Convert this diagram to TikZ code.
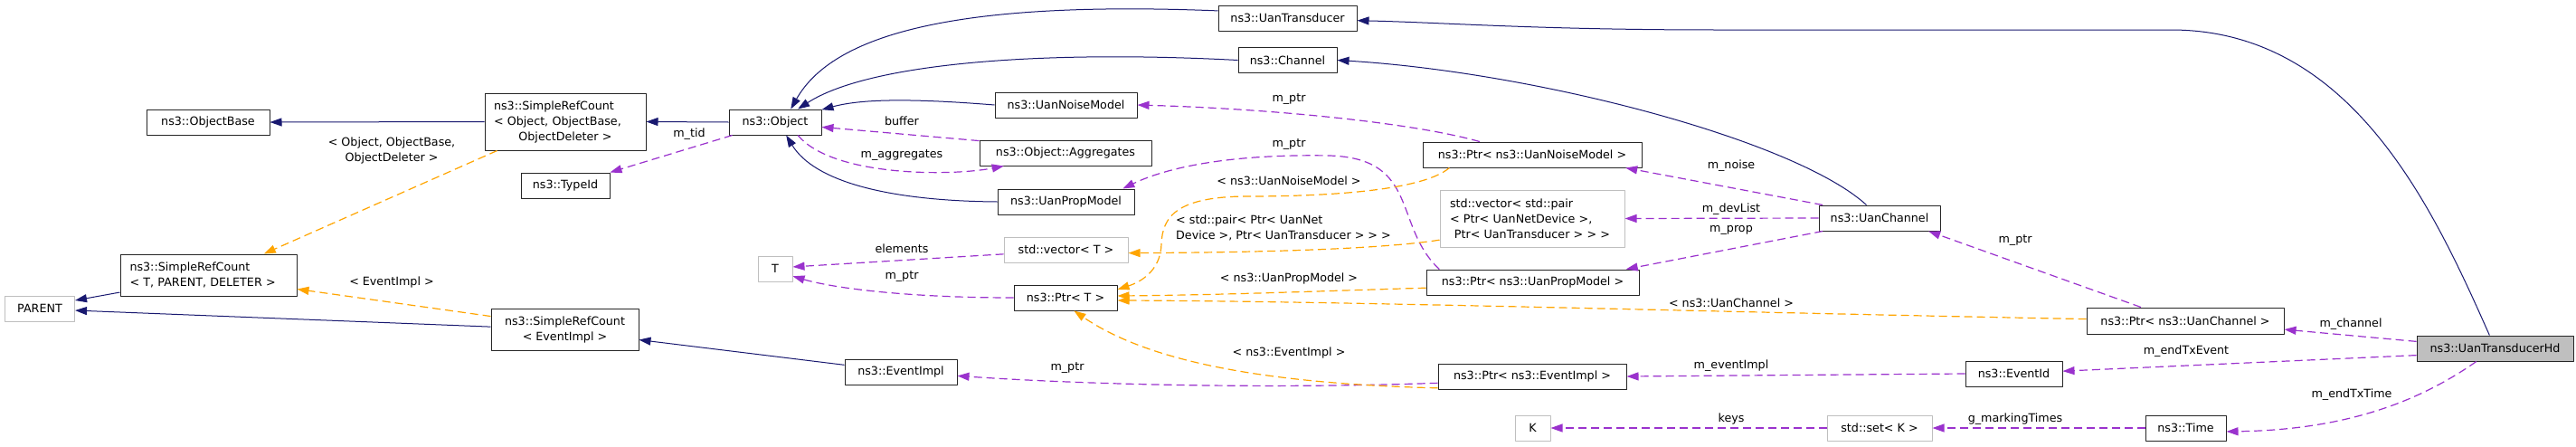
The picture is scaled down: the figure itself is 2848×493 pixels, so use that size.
\documentclass[tikz,border=0pt]{standalone}
\usepackage{fontspec}
\setmainfont{DejaVu Sans}
\usetikzlibrary{arrows.meta}
\definecolor{inhblue}{HTML}{191970}
\definecolor{usepurple}{HTML}{9A32CD}
\definecolor{tmplorange}{HTML}{FFA500}
\definecolor{undocgray}{HTML}{BFBFBF}
\tikzset{
  cls/.style={draw=black!85,line width=1pt,fill=white,inner sep=0pt,minimum height=28pt,align=center},
  undoc/.style={cls,draw=undocgray},
  hdnode/.style={cls,fill=undocgray},
  inh/.style={draw=inhblue,line width=1pt,-{Triangle[length=13pt,width=9pt]}},
  use/.style={draw=usepurple,line width=1.2pt,dash pattern=on 9pt off 5pt,-{Triangle[length=13pt,width=9pt]}},
  tmpl/.style={draw=tmplorange,line width=1.2pt,dash pattern=on 9pt off 5pt,-{Triangle[length=13pt,width=9pt]}},
  lbl/.style={inner sep=0pt,align=center}
}
\newcommand{\midline}[1]{\hspace*{\fill}#1\hspace*{\fill}\null}
\begin{document}
\begin{tikzpicture}[x=1pt,y=-1pt,line join=round,font=\fontsize{12.7}{17}\selectfont]
\useasboundingbox[fill=white] (0,0) rectangle (2848,493);
% classes
\node[cls,minimum width=136pt] (ObjectBase) at (230,135) {ns3::ObjectBase};
\node[cls,minimum width=178pt,minimum height=63pt,text width=158pt,align=left] (SRCObj) at (625,134.5)
  {ns3::SimpleRefCount\\< Object, ObjectBase,\\\midline{ObjectDeleter >}};
\node[cls,minimum width=98pt] (TypeId) at (625,205) {ns3::TypeId};
\node[cls,minimum width=195pt,minimum height=46pt,text width=174pt,align=left] (SRCT) at (230.5,304)
  {ns3::SimpleRefCount\\< T, PARENT, DELETER >};
\node[undoc,minimum width=77pt] (PARENT) at (44,341) {PARENT};
\node[cls,minimum width=163pt,minimum height=46pt] (SRCEv) at (624.5,364) {ns3::SimpleRefCount\\< EventImpl >};
\node[cls,minimum width=102pt] (Object) at (857,135) {ns3::Object};
\node[cls,minimum width=157pt] (NoiseModel) at (1178.5,116) {ns3::UanNoiseModel};
\node[cls,minimum width=190pt] (Aggregates) at (1178,169) {ns3::Object::Aggregates};
\node[cls,minimum width=151pt] (PropModel) at (1178.5,223) {ns3::UanPropModel};
\node[undoc,minimum width=38pt] (T) at (857,297) {T};
\node[undoc,minimum width=137pt] (VecT) at (1178.5,276) {std::vector< T >};
\node[cls,minimum width=114pt] (PtrT) at (1178,329) {ns3::Ptr< T >};
\node[cls,minimum width=124pt] (EventImpl) at (996,411) {ns3::EventImpl};
\node[cls,minimum width=153pt] (Transducer) at (1423.5,20) {ns3::UanTransducer};
\node[cls,minimum width=109pt] (Channel) at (1423.5,66.5) {ns3::Channel};
\node[cls,minimum width=242pt] (PtrNoise) at (1694,171) {ns3::Ptr< ns3::UanNoiseModel >};
\node[undoc,minimum width=204pt,minimum height=63pt,text width=182pt,align=left] (VecPair) at (1694,241.5)
  {std::vector< std::pair\\< Ptr< UanNetDevice >,\\\midline{Ptr< UanTransducer > > >}};
\node[cls,minimum width=235pt] (PtrProp) at (1694.5,312) {ns3::Ptr< ns3::UanPropModel >};
\node[cls,minimum width=208pt] (PtrEv) at (1694,416) {ns3::Ptr< ns3::EventImpl >};
\node[undoc,minimum width=39pt] (K) at (1694.5,473) {K};
\node[undoc,minimum width=116pt] (SetK) at (2078,473) {std::set< K >};
\node[cls,minimum width=134pt] (UanChannel) at (2078,241) {ns3::UanChannel};
\node[cls,minimum width=218pt,minimum height=29pt] (PtrChan) at (2416,354.5) {ns3::Ptr< ns3::UanChannel >};
\node[cls,minimum width=107pt] (EventId) at (2226.5,413) {ns3::EventId};
\node[cls,minimum width=89pt] (Time) at (2416.5,473) {ns3::Time};
\node[hdnode,minimum width=173pt] (Hd) at (2758.5,385) {ns3::UanTransducerHd};
% inheritance
\draw[inh] (SRCObj.west) -- (ObjectBase.east);
\draw[inh] (Object.west) -- (SRCObj.east);
\draw[inh] (Transducer.174) .. controls (1050,0) and (920,40) .. (Object.40);
\draw[inh] (Channel.west) .. controls (1150,55) and (960,70) .. (Object.30);
\draw[inh] (NoiseModel.west) .. controls (1000,108) and (950,110) .. (Object.15);
\draw[inh] (PropModel.west) .. controls (980,222) and (900,200) .. (Object.-50);
\draw[inh] (SRCT.191) -- (PARENT.13);
\draw[inh] (SRCEv.178) -- (PARENT.-3);
\draw[inh] (EventImpl.173) -- (SRCEv.-8);
\draw[inh] (UanChannel.135) .. controls (1985,155) and (1700,80) .. (Channel.east);
\draw[inh] (Hd.113) .. controls (2690,230) and (2600,33) .. (2400,33) -- (1900,33)
  .. controls (1700,33) and (1600,25) .. (Transducer.-2);
% members
\draw[use] (Object.197) -- (TypeId.north east);
\draw[use] (Aggregates.172) -- (Object.-6);
\draw[use] (Object.-30) .. controls (920,195) and (1050,195) .. (Aggregates.-168);
\draw[use] (VecT.184) -- (T.6);
\draw[use] (PtrT.west) .. controls (1000,329) and (920,318) .. (T.-23);
\draw[use] (PtrEv.184) .. controls (1400,430) and (1200,425) .. (EventImpl.-4);
\draw[use] (PtrNoise.166) .. controls (1560,135) and (1400,120) .. (NoiseModel.east);
\draw[use] (PtrProp.172.5) .. controls (1540,250) and (1570,175) .. (1470,172)
  .. controls (1360,170) and (1290,185) .. (PropModel.13);
\draw[use] (UanChannel.167) -- (PtrNoise.-8);
\draw[use] (UanChannel.west) -- (VecPair.east);
\draw[use] (UanChannel.-167) -- (PtrProp.8);
\draw[use] (PtrChan.163.5) -- (UanChannel.-15);
\draw[use] (Hd.175) -- (PtrChan.-5.5);
\draw[use] (Hd.185) -- (EventId.3);
\draw[use] (EventId.west) -- (PtrEv.east);
\draw[use] (Hd.-145) .. controls (2680,440) and (2600,475) .. (Time.-5);
\draw[use] (Time.west) -- (SetK.east);
\draw[use] (SetK.west) -- (K.east);
% templates
\draw[tmpl] (SRCObj.-157) -- (SRCT.21.5);
\draw[tmpl] (SRCEv.170) -- (SRCT.-9);
\draw[tmpl] (VecPair.193) .. controls (1530,275) and (1400,279) .. (VecT.-3);
\draw[tmpl] (PtrNoise.189.4) .. controls (1570,213) and (1450,217) .. (1380,217)
  .. controls (1300,217) and (1285,240) .. (1284,270) .. controls (1283,300) and (1260,312) .. (PtrT.9);
\draw[tmpl] (PtrProp.183) .. controls (1450,322) and (1350,326) .. (PtrT.2);
\draw[tmpl] (PtrChan.179) .. controls (1900,345) and (1500,333) .. (PtrT.-3);
\draw[tmpl] (PtrEv.187) .. controls (1400,424) and (1270,400) .. (PtrT.-57.5);
% labels
\node[lbl] (lObj) at (433,166.5) {< Object, ObjectBase,\\ObjectDeleter >};
\node[lbl] (lEv) at (433,312) {< EventImpl >};
\node[lbl] (lTid) at (762,148) {m\_tid};
\node[lbl] (lBuf) at (997,134) {buffer};
\node[lbl] (lAgg) at (997,172) {m\_aggregates};
\node[lbl] (lElem) at (997,275) {elements};
\node[lbl] (lPtrT) at (997,306) {m\_ptr};
\node[lbl] (lPtrEv) at (1180,407) {m\_ptr};
\node[lbl] (lPtrNoise) at (1425,110) {m\_ptr};
\node[lbl] (lPtrProp) at (1425,160) {m\_ptr};
\node[lbl] (lTNoise) at (1425,200) {< ns3::UanNoiseModel >};
\node[lbl,align=left,anchor=west] (lTPair) at (1300,251.5) {< std::pair< Ptr< UanNet\\Device >, Ptr< UanTransducer > > >};
\node[lbl] (lTProp) at (1425,308) {< ns3::UanPropModel >};
\node[lbl] (lTEv) at (1425,390) {< ns3::EventImpl >};
\node[lbl] (lNoise) at (1914,183) {m\_noise};
\node[lbl] (lDev) at (1914,231) {m\_devList};
\node[lbl] (lProp) at (1914,254) {m\_prop};
\node[lbl] (lTChan) at (1914,335) {< ns3::UanChannel >};
\node[lbl] (lEvImpl) at (1914,404) {m\_eventImpl};
\node[lbl] (lKeys) at (1914,463) {keys};
\node[lbl] (lPtrChan) at (2228,266) {m\_ptr};
\node[lbl] (lChan) at (2599,358) {m\_channel};
\node[lbl] (lTxEv) at (2417,388) {m\_endTxEvent};
\node[lbl] (lTxTime) at (2600,436) {m\_endTxTime};
\node[lbl] (lMark) at (2228,463) {g\_markingTimes};
\end{tikzpicture}
\end{document}
